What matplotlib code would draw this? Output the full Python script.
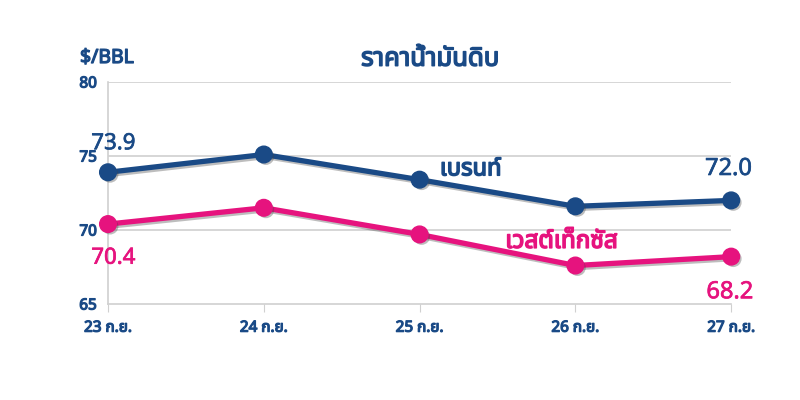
import matplotlib
matplotlib.use("Agg")
import matplotlib.pyplot as plt
import matplotlib.patheffects as pe
from matplotlib import font_manager
from matplotlib.ft2font import FT2Font

categories = ["23 ก.ย.", "24 ก.ย.", "25 ก.ย.", "26 ก.ย.", "27 ก.ย."]
brent = [73.9, 75.1, 73.4, 71.6, 72.0]
wti = [70.4, 71.5, 69.7, 67.6, 68.2]
yticks = [65, 70, 75, 80]
title = "ราคาน้ำมันดิบ"
unit = "$/BBL"
brent_label = "เบรนท์"
wti_label = "เวสต์เท็กซัส"

# find a font with Thai glyphs
thai_font = None
cands = []
for f in font_manager.fontManager.ttflist:
    try:
        cm = FT2Font(f.fname).get_charmap()
        if 0x0E01 in cm and 0x0E32 in cm:
            cands.append(f)
    except Exception:
        pass
pref = ["Noto Sans Thai", "Noto Sans Thai UI", "Loma", "Garuda", "Tahoma", "Leelawadee"]
for p in pref:
    for f in cands:
        if f.name == p:
            thai_font = f.name
            break
    if thai_font:
        break
if thai_font is None and cands:
    thai_font = cands[0].name
fams = ([thai_font] if thai_font else []) + ["DejaVu Sans"]
plt.rcParams['font.family'] = fams

navy = "#1a4a86"
pink = "#e6137e"
grid = "#d0d0d0"


def bold(color, w=0.9):
    return [pe.withStroke(linewidth=w, foreground=color)]


fig = plt.figure(figsize=(8, 4), dpi=100)
ax = fig.add_axes([0.135, 0.24, 0.779, 0.555])
x = list(range(len(categories)))
shadow = [pe.SimpleLineShadow(offset=(1.5, -1.5), shadow_color="#444444", alpha=0.35), pe.Normal()]
for vals, col in [(brent, navy), (wti, pink)]:
    ax.plot(x, vals, color=col, lw=3.8, path_effects=shadow, zorder=3, clip_on=False)
    ax.plot(x, vals, ls="none", marker="o", ms=12, mfc=col, mec=col, zorder=4, clip_on=False,
            path_effects=[pe.SimplePatchShadow(offset=(1.5, -1.5), shadow_rgbFace="#444444", alpha=0.35), pe.Normal()])

ax.set_xlim(0, 4)
ax.set_ylim(65, 80)
ax.set_yticks(yticks)
ax.set_xticks(x)
ax.set_xticklabels(categories)
for y in yticks[1:]:
    ax.axhline(y, color=grid, lw=1.2, zorder=1)
for s in ["top", "right"]:
    ax.spines[s].set_visible(False)
ax.spines["left"].set_color(grid)
ax.spines["bottom"].set_color(grid)
ax.spines["left"].set_linewidth(1.2)
ax.spines["bottom"].set_linewidth(1.2)
ax.tick_params(axis="y", length=0, pad=8, labelsize=11, labelcolor=navy)
ax.tick_params(axis="x", length=6, color=grid, pad=6, labelsize=11, labelcolor=navy)
for t in ax.get_xticklabels() + ax.get_yticklabels():
    t.set_fontweight("bold")
    t.set_path_effects(bold(navy, 0.9))

fig.text(0.538, 0.852, title, ha="center", va="center", fontsize=18.5, fontweight="bold", color=navy,
         path_effects=bold(navy, 1.1))
fig.text(0.1, 0.855, unit, ha="left", va="center", fontsize=14, fontweight="bold", color=navy,
         path_effects=bold(navy, 0.9))

ax.annotate(f"{brent[0]:.1f}", (0, brent[0]), xytext=(-12, 13), textcoords="offset points",
            color=navy, fontsize=16, ha="left", va="bottom", path_effects=bold(navy, 0.5))
ax.annotate(f"{brent[-1]:.1f}", (4, brent[-1]), xytext=(-2, 14), textcoords="offset points",
            color=navy, fontsize=17, ha="center", va="bottom", path_effects=bold(navy, 0.5))
ax.annotate(f"{wti[0]:.1f}", (0, wti[0]), xytext=(-12, -17), textcoords="offset points",
            color=pink, fontsize=16, ha="left", va="top", path_effects=bold(pink, 0.5))
ax.annotate(f"{wti[-1]:.1f}", (4, wti[-1]), xytext=(-1, -17), textcoords="offset points",
            color=pink, fontsize=17, ha="center", va="top", path_effects=bold(pink, 0.5))
ax.text(2.13, 74.1, brent_label, color=navy, fontsize=17, fontweight="bold", ha="left", va="center",
        path_effects=bold(navy, 1.1))
ax.text(2.55, 69.2, wti_label, color=pink, fontsize=17.5, fontweight="bold", ha="left", va="center",
        path_effects=bold(pink, 1.1))

fig.savefig("out.png", dpi=100)
